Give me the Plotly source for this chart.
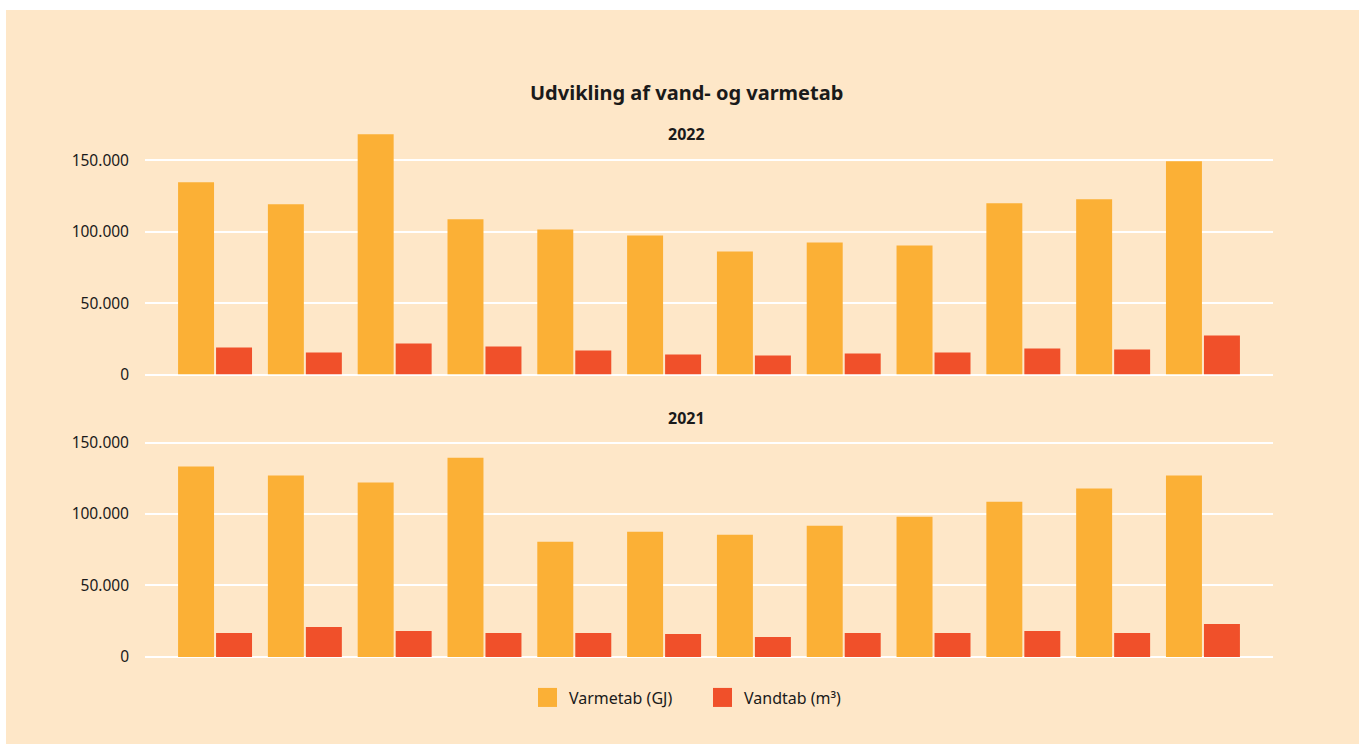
import plotly.graph_objects as go
from plotly.subplots import make_subplots

maaneder = ["Jan", "Feb", "Mar", "Apr", "Maj", "Jun", "Jul", "Aug", "Sep", "Okt", "Nov", "Dec"]

varmetab_2022 = [134600, 119200, 168200, 108700, 101600, 97400, 86200, 92500, 90400, 119900, 122700, 149300]
vandtab_2022 = [18900, 15400, 21700, 19600, 16800, 14000, 13300, 14700, 15400, 18200, 17500, 27300]

varmetab_2021 = [133200, 126900, 122000, 139500, 80600, 87600, 85500, 91800, 98100, 108600, 117800, 126900]
vandtab_2021 = [16800, 21000, 18200, 16800, 16800, 16100, 14000, 16800, 16800, 18200, 16800, 23100]

BEIGE = "#FEE7C8"
ORANGE = "#FBB036"
RED = "#F0502A"
TXT = "#1a1a1a"
FONT = "Noto Sans"

W, H = 1359, 755
ML, MR = 145, 1359 - 1273
PW = W - ML - MR
KY = H / 744  # vertical stretch measured against the screenshot


def px_x(p):
    return (p - ML) / PW


def px_y(p):
    return 1 - p * KY / H


fig = make_subplots(rows=2, cols=1)

for row, varme, vand in [(1, varmetab_2022, vandtab_2022), (2, varmetab_2021, vandtab_2021)]:
    fig.add_trace(
        go.Bar(x=maaneder, y=varme, name="Varmetab (GJ)", marker_color=ORANGE,
               marker_line_width=0, showlegend=False),
        row=row, col=1,
    )
    fig.add_trace(
        go.Bar(x=maaneder, y=vand, name="Vandtab (m³)", marker_color=RED,
               marker_line_width=0, showlegend=False),
        row=row, col=1,
    )

fig.update_layout(
    yaxis=dict(domain=[px_y(374), px_y(131.5)]),
    yaxis2=dict(domain=[px_y(656), px_y(413.5)]),
)
fig.update_yaxes(
    range=[0, 170000], tickvals=[0, 50000, 100000, 150000], tickformat=",",
    gridcolor="white", gridwidth=2, zeroline=True, zerolinecolor="white", zerolinewidth=2,
    showline=False, ticks="", ticklabelstandoff=15,
    tickfont=dict(family=FONT, size=15.5, color=TXT),
)
fig.update_xaxes(range=[-0.78, 11.78], showticklabels=False, showgrid=False,
                 zeroline=False, showline=False, ticks="")

fig.add_annotation(text="<b>Udvikling af vand- og varmetab</b>", xref="paper", yref="paper",
                   x=px_x(686), y=px_y(92), yanchor="middle", showarrow=False,
                   font=dict(family=FONT, size=20, color=TXT))
fig.add_annotation(text="<b>2022</b>", xref="paper", yref="paper",
                   x=px_x(686), y=px_y(134), yanchor="middle", showarrow=False,
                   font=dict(family=FONT, size=16, color=TXT))
fig.add_annotation(text="<b>2021</b>", xref="paper", yref="paper",
                   x=px_x(686), y=px_y(417), yanchor="middle", showarrow=False,
                   font=dict(family=FONT, size=16, color=TXT))

# legend, drawn by hand for the larger squares
legend = [("Varmetab (GJ)", ORANGE, 538), ("Vandtab (m³)", RED, 713)]
for label, color, x0 in legend:
    fig.add_shape(type="rect", xref="paper", yref="paper",
                  x0=px_x(x0), x1=px_x(x0 + 19), y0=px_y(706), y1=px_y(687),
                  fillcolor=color, line_width=0)
    fig.add_annotation(text=label, xref="paper", yref="paper", x=px_x(x0 + 29), y=px_y(697),
                       xanchor="left", yanchor="middle", showarrow=False,
                       font=dict(family=FONT, size=16, color=TXT))

# white page edges around the beige panel
fig.add_shape(type="rect", xref="paper", yref="paper", x0=px_x(0), x1=px_x(6), y0=0, y1=1,
              fillcolor="white", line_width=0)
fig.add_shape(type="rect", xref="paper", yref="paper", x0=px_x(0), x1=px_x(W), y0=px_y(10), y1=1,
              fillcolor="white", line_width=0)

fig.update_layout(
    width=W, height=H,
    margin=dict(l=ML, r=MR, t=0, b=0),
    paper_bgcolor=BEIGE, plot_bgcolor=BEIGE,
    barmode="group", bargap=0.154, bargroupgap=0.053,
    separators=",.",
    font=dict(family=FONT, color=TXT),
    showlegend=False,
)

fig.write_html("out.html", config={"displayModeBar": False},
               post_script="document.body.style.margin = '0';")
